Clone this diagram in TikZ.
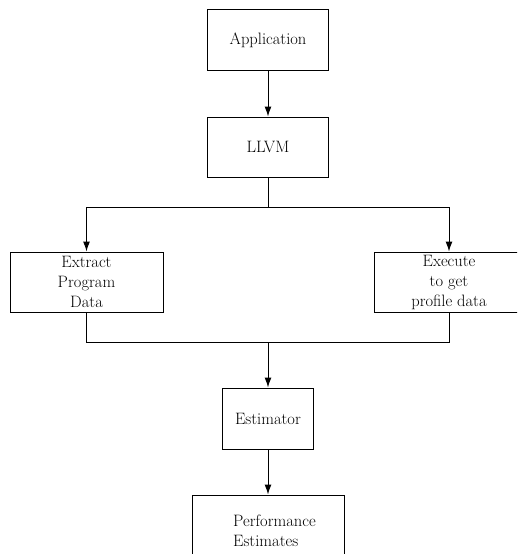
\documentclass[tikz,border=0pt]{standalone}
\usetikzlibrary{arrows.meta}
\begin{document}
\begin{tikzpicture}[x=1pt,y=-1pt,
  box/.style={draw, line width=1pt, inner sep=0pt, align=center,
    font=\fontsize{16.5}{20}\selectfont},
  arr/.style={line width=1pt, -{Latex[length=10pt,width=7pt]}},
  conn/.style={line width=1pt}]
\path[use as bounding box, clip] (0,0) rectangle (517,554);
\node[box, minimum width=121pt, minimum height=61pt] (app) at (268,40) {Application};
\node[box, minimum width=121pt, minimum height=60pt] (llvm) at (268,147) {LLVM};
\node[box, minimum width=153pt, minimum height=60pt] (extract) at (86.5,282) {Extract\\Program\\Data};
\node[box, minimum width=150pt, minimum height=60pt] (execute) at (449,282) {Execute\\to get\\profile data};
\node[box, minimum width=91pt, minimum height=61pt] (estimator) at (268,418.5) {\raisebox{-3pt}{Estimator}};
\node[box, minimum width=152pt, minimum height=80pt] (perf) at (268,535) {};
\node[font=\fontsize{16.5}{20}\selectfont, align=left, inner sep=0pt, anchor=west] (perftext) at (233,531) {Performance\\Estimates};
\coordinate (split) at (268,207);
\coordinate (join) at (268,342);
\draw[arr] (app.south) -- (llvm.north);
\draw[conn] (llvm.south) -- (split);
\draw[arr] (split) -| (extract.north);
\draw[arr] (split) -| (execute.north);
\draw[conn] (extract.south) |- (join);
\draw[conn] (execute.south) |- (join);
\draw[arr] (join) -- (estimator.north);
\draw[arr] (estimator.south) -- (perf.north);
\end{tikzpicture}
\end{document}
